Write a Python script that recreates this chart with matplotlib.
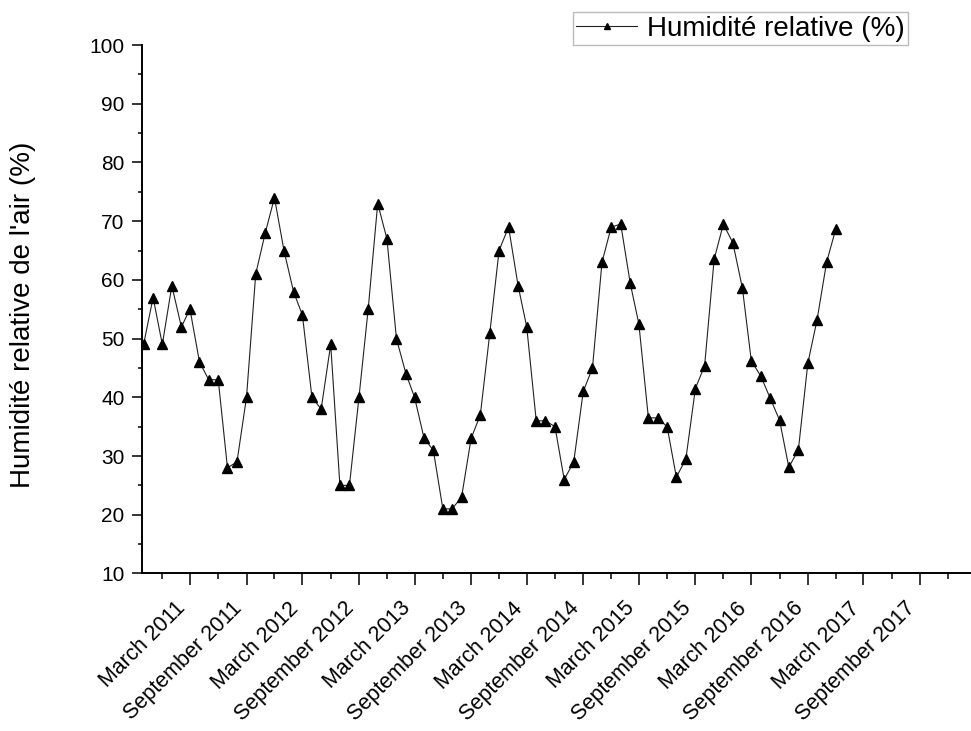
import numpy as np
import pandas as pd
import matplotlib
matplotlib.use('Agg')
import matplotlib.pyplot as plt
import matplotlib.dates as mdates

plt.rcParams['font.family'] = ['Liberation Sans', 'DejaVu Sans']

# Monthly relative humidity, October 2010 to December 2016
start_month = '2010-10-01'
humidity = [49, 57, 49, 59, 52, 55, 46, 43, 43, 28, 29, 40,
            61, 68, 74, 65, 58, 54, 40, 38, 49, 25, 25, 40,
            55, 73, 67, 50, 44, 40, 33, 31, 21, 21, 23, 33,
            37, 51, 65, 69, 59, 52, 36, 36, 35, 26, 29, 41,
            45, 63, 69, 69.5, 59.4, 52.5, 36.5, 36.5, 35, 26.4, 29.5, 41.5,
            45.4, 63.5, 69.5, 66.3, 58.6, 46.2, 43.6, 39.9, 36.1, 28.1, 31, 45.8,
            53.2, 63, 68.7]
months = pd.date_range(start_month, periods=len(humidity), freq='MS')

series_label = 'Humidité relative (%)'
y_label = "Humidité relative de l'air (%)"

fig = plt.figure(figsize=(9.71, 7.31), dpi=100)
ax = fig.add_axes([0.1466, 0.2155, 0.8534, 0.7229])

ax.plot(months, humidity, color='#222222', lw=0.8, marker='^', markersize=6.5,
        markerfacecolor='black', markeredgecolor='black', label=series_label)

ax.set_ylim(10, 100)
ax.set_xlim(pd.Timestamp('2010-09-27'), pd.Timestamp('2018-02-14'))

ax.yaxis.set_major_locator(plt.MultipleLocator(10))
ax.yaxis.set_minor_locator(plt.MultipleLocator(5))
ax.xaxis.set_major_locator(mdates.MonthLocator(bymonth=[3, 9]))
ax.xaxis.set_minor_locator(mdates.MonthLocator(bymonth=[6, 12]))
ax.xaxis.set_major_formatter(mdates.DateFormatter('%B %Y'))

for s in ['top', 'right']:
    ax.spines[s].set_visible(False)
for s in ['left', 'bottom']:
    ax.spines[s].set_linewidth(1.4)

ax.tick_params(axis='y', which='major', length=7.2, width=1.1, labelsize=15, pad=5.5)
ax.tick_params(axis='y', which='minor', length=3, width=1.1)
ax.tick_params(axis='x', which='major', length=8.6, width=1.1, labelsize=15.5, pad=9)
ax.tick_params(axis='x', which='minor', length=4.3, width=1.1)
plt.setp(ax.get_xticklabels(), rotation=45, ha='right', rotation_mode='default')

ax.set_ylabel(y_label, fontsize=20)
ax.yaxis.set_label_coords(-0.128, 0.49)

leg = fig.legend(loc='upper right', bbox_to_anchor=(0.935, 0.983), fontsize=20,
                 frameon=True, fancybox=False, borderpad=0.12, handlelength=2.2,
                 handletextpad=0.35, borderaxespad=0, markerscale=0.75)
leg.get_frame().set_edgecolor('#aaaaaa')
leg.get_frame().set_linewidth(1.0)

fig.savefig('out.png', dpi=100)
